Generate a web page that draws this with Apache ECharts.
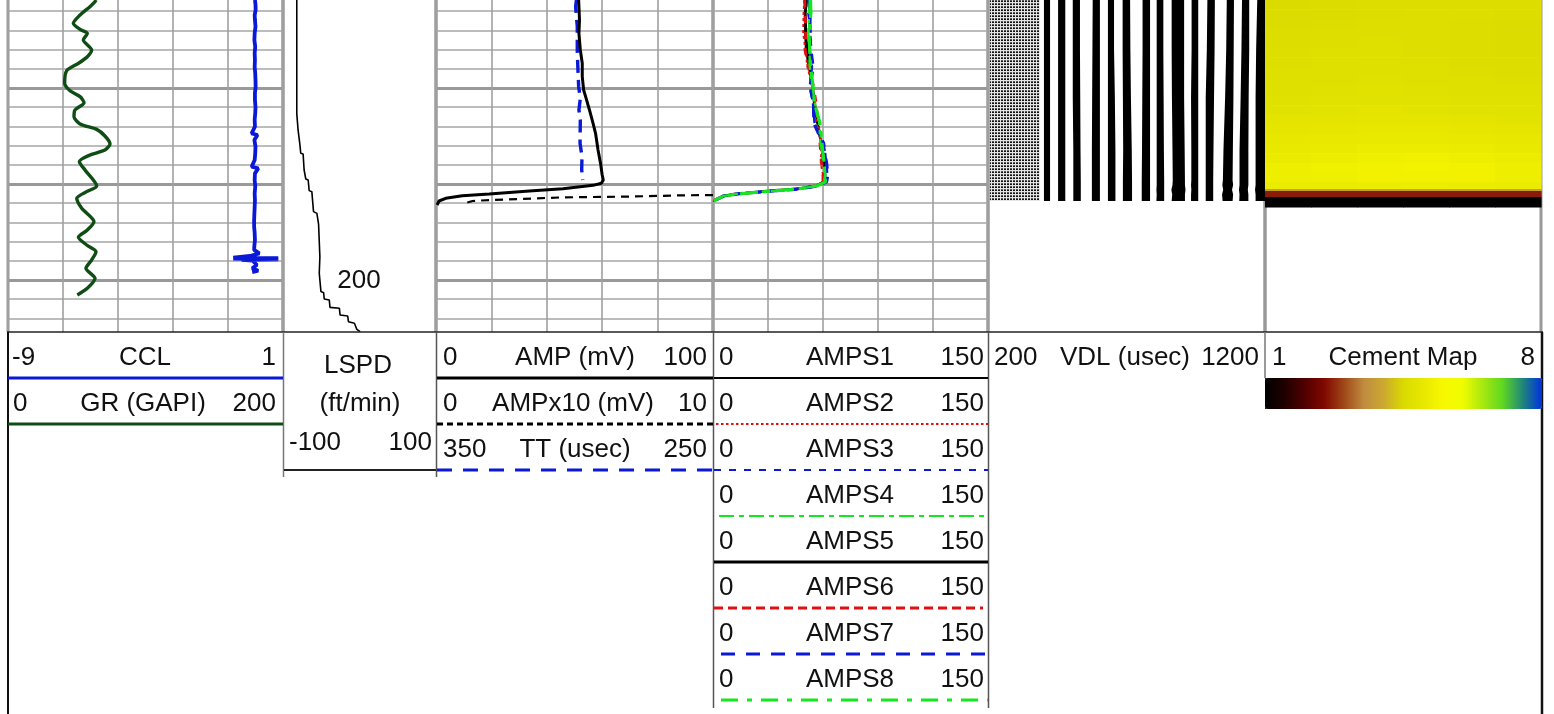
<!DOCTYPE html>
<html><head><meta charset="utf-8">
<style>html,body{margin:0;padding:0;background:#fff;overflow:hidden;width:1554px;height:714px}#c{position:absolute;left:0;top:-8px;width:1554px;height:722px}</style>
<script src="https://cdn.jsdelivr.net/npm/echarts@6/dist/echarts.min.js"></script>
</head><body><div id="c"></div>
<script>
// ---------- values (depth is relative, in feet) ----------
const grDepth=[0.83,1.01,1.53,2.4,3.26,3.89,4.31,5.0,6.04,6.74,7.43,8.19,9.51,10.28,10.9,11.53,12.29,12.99,13.75,14.31,15.0,15.83,16.46,16.98,17.67,18.54,20.2,20.8,21.49,22.53,23.92,24.79,25.55,26.35,27.05,27.92,28.78,29.83,30.87,31.56];
const grValues=[64,63.3,59.6,52.4,47.5,52.4,57.7,54.8,60.8,57.7,51.2,42.7,41.2,45.1,52.4,55.3,48.7,48,52.4,64.5,70.5,74.2,70.5,59.6,51.9,56,64.5,57.2,50,53.6,62.5,57.7,51.2,57.2,64,60.8,56.7,63.3,57.7,50.4];
const cclDepth=[0.83,1.3,1.87,2.4,2.92,3.6,4.3,5.0,5.69,6.4,7.08,7.8,8.47,9.2,9.86,10.5,11.25,12,12.64,13.3,14.03,14.72,14.9,15.42,16.1,16.8,17.5,18.2,18.37,18.89,19.6,20.28,21,21.67,22.4,23.05,23.8,24.44,25.1,25.83,26.4,26.87,27.22,27.5,27.66,27.72,27.78,27.84,27.9,27.99,28.44,28.78,29.03,29.17];
const cclValues=[-0.02,0.0,0.005,-0.03,-0.02,0.0,-0.03,-0.04,-0.01,-0.03,-0.02,-0.03,-0.01,0.0,0.005,-0.02,-0.02,0.0,-0.01,-0.03,-0.02,-0.14,0.07,-0.04,0.0,-0.01,-0.03,-0.14,0.10,-0.02,-0.03,-0.01,-0.03,-0.02,-0.03,-0.04,-0.05,-0.05,-0.03,-0.02,-0.04,-0.05,0.14,-0.2,-0.81,0.83,-0.81,0.83,-0.5,-0.1,0.05,-0.12,0.1,-0.12];
const lspdDepth=[0.83,12.64,14.37,15.76,16.8,16.87,18.54,19.48,19.58,20.69,20.8,22.88,23.06,24.17,27.57,29.3,31.21,31.32,31.98,32.08,32.85,32.95,33.65,33.75,34.34,34.51,35.14,35.38];
const lspdValues=[-82,-82,-80.3,-78.1,-76.8,-73.7,-72.4,-70.2,-67.1,-65.8,-62.3,-60.1,-55.7,-53.5,-51.8,-52.6,-50.4,-46.9,-46.1,-39.5,-38.6,-26.3,-25.4,-15.4,-14.5,-6.6,-3.5,0.9];
const ampDepth=[0.83,2.92,4.3,6.04,7.43,8.82,10.21,11.08,12.29,13.68,14.72,16.46,17.85,19.06,19.58,19.93,20.14,20.49,20.73,21.04,21.22,21.49,21.77,22.19];
const ampValues=[51.5,51.8,51.6,52.1,52.8,52.8,53.3,54.2,55.4,56.7,57.6,58.5,59.4,60.0,60.4,59.7,56.7,45.8,33.7,19.2,9.5,3.5,1.1,0.4];
const ampx10Depth=[21.15,21.18,21.32,21.39,21.56,21.67,21.77,22.08];
const ampx10Values=[10,8.93,6.75,4.58,3.01,1.92,1.32,0.95];
const ttDepth=[0.83,1.53,3.61,6.04,7.78,9.86,11.08,12.29,13.33,15.76,17.15,18.54,19.58];
const ttValues=[299.3,299.6,299.0,299.0,298.8,298.5,297.9,298.4,297.9,298.0,297.3,297.4,297.0];
const ampsDepth=[0.83,2.22,4.3,6.04,7.78,9.86,11.6,13.68,15.76,17.85,19.06,19.76,20.2,20.52,20.76,21.04,21.25,21.77];
const amps1=[51,50.5,50.8,51.5,52.8,54,55.6,57.2,58.8,60.2,61,60.2,56.5,45.6,29.3,12.9,5.6,0.2];
const amps2=[49.8,49.4,49.2,50.4,51.5,54.2,55.8,56.4,59.2,58.8,60,59.8,56,45.2,29.1,12.8,5.5,0.1];
const amps3=[52.5,52,53.4,52.8,54,52.8,54.5,55.4,60.6,61.8,62.4,61.5,57,46,29.5,13,5.7,0.2];
const amps4=[52.8,52.4,52,52.6,52.8,54.2,55.6,58,58.6,60.8,61.2,60.6,56.6,45.8,29.4,13,5.6,0.2];
const amps5=[50.6,50.2,50.4,50.8,52.4,54.4,55.2,57,59,60.6,61.2,60.4,56.4,45.4,29.2,12.8,5.5,0.2];
const amps6=[50,50.2,50.6,50.2,52,54.8,56.2,57.4,58.4,59.2,60,60.2,56.2,45.5,29.2,12.9,5.5,0.1];
const amps7=[52,53,52.8,53.4,54.6,53,54.8,55,60,62,62.6,62,57.2,46.2,29.6,13.1,5.8,0.3];
const amps8=[53.2,53.4,52.4,52.8,53.2,54.6,55.4,58.4,59.4,60.6,61,61.4,56.8,46,29.6,13.2,5.8,0.3];
const vdlEdgeDepth=[0.83,6,11,16.5,19.6,20.1,20.6,21.1,21.77];
const vdlLeft=[
[402,402,402,402,402,402,402,402,402],[453,453,453,453,453,453,453,453,453],[506,506,506,508,508,508,508,508,508],
[578,577,576,575,575,575,575,575,575],[633,633,633,633,633,633,633,633,633],[686,686,687,688,687,687,687,687,687],
[758,758,757,756,755,755,755,755,755],[809,809,809,809,809,809,808,809,808],[863,863,864,866,867,866,862,865,863],
[935,935,933,934,934,933,934,933,933],[992,990,986,986,986,986,986,986,986],[1062,1060,1056,1050,1048,1046,1049,1045,1047],
[1117,1115,1112,1108,1108,1108,1106,1108,1107],[1172,1168,1166,1166,1166,1166,1164,1166,1166]];
const vdlRight=[
[424,424,424,424,424,424,424,424,424],[479,479,479,479,479,479,479,479,479],[532,532,533,534,535,535,535,535,535],
[604,604,604,604,604,604,604,604,604],[655,655,658,660,660,660,660,660,660],[713,714,716,719,720,720,720,720,720],
[785,785,785,785,785,785,785,785,785],[833,833,834,835,836,836,836,836,836],[908,908,908,910,911,911,913,911,911],
[959,959,959,959,959,959,959,959,959],[1019,1018,1016,1014,1013,1013,1013,1013,1013],[1088,1087,1086,1084,1083,1085,1081,1085,1083],
[1143,1143,1141,1140,1140,1140,1138,1140,1140],[1200,1200,1200,1200,1200,1200,1200,1200,1200]];
const vdlPatchRange=[207,387];
const cementDepthEdges=[0.83,1.8,2.8,3.8,4.8,5.8,6.8,7.8,8.8,9.8,10.8,11.8,12.8,13.8,14.8,15.8,16.8,17.8,18.8,19.8,20.52,20.73,21.35,22.4];
const cementValues=[
[4.55,4.56,4.60,4.62,4.62,4.60],[4.56,4.58,4.62,4.64,4.63,4.60],[4.58,4.61,4.64,4.64,4.61,4.58],[4.60,4.63,4.66,4.64,4.60,4.58],
[4.62,4.65,4.67,4.63,4.59,4.57],[4.64,4.67,4.69,4.65,4.60,4.58],[4.66,4.68,4.70,4.67,4.61,4.59],[4.68,4.70,4.72,4.70,4.63,4.61],
[4.70,4.72,4.74,4.72,4.67,4.65],[4.72,4.74,4.78,4.75,4.72,4.70],[4.76,4.78,4.80,4.79,4.76,4.74],[4.80,4.82,4.84,4.83,4.80,4.78],
[4.84,4.86,4.88,4.88,4.84,4.82],[4.90,4.92,4.95,4.95,4.92,4.88],[4.96,4.99,5.03,5.04,5.00,4.96],[5.02,5.06,5.11,5.14,5.09,5.03],
[5.10,5.15,5.21,5.26,5.20,5.12],[5.18,5.24,5.30,5.35,5.30,5.20],[5.18,5.22,5.28,5.32,5.27,5.18],[5.08,5.10,5.14,5.16,5.12,5.08],
[3.8,3.8,3.8,3.8,3.8,3.8],[2.65,2.65,2.65,2.65,2.65,2.65],[1,1,1,1,1,1]];
const cementColors=['#000000','#200000','#500000','#800800','#a04818','#c08c40','#cca830','#dada00','#e8e800','#f8f800','#f0fc00','#a8e810','#60d820','#208878','#0030e0'];
const liveTimeNote='200';
// header text per track: [left, name, right]
const hdrLog=[['-9','CCL','1'],['0','GR (GAPI)','200']];
const hdrLspd=['LSPD','(ft/min)','-100','100'];
const hdrAmp=[['0','AMP (mV)','100'],['0','AMPx10 (mV)','10'],['350','TT (usec)','250']];
const hdrAmps=['AMPS1','AMPS2','AMPS3','AMPS4','AMPS5','AMPS6','AMPS7','AMPS8'].map(n=>['0',n,'150']);
const hdrVdl=['200','VDL (usec)','1200'];
const hdrCement=['1','Cement Map','8'];

// ---------- layout & style (the canvas starts 8px above the page) ----------
const edges=[8,283,436,713,988,1265,1541];
const rowH=46, hdrTop=332, textY0=357.5;
const C={blue:'#0a18d8',green:'#0f4d14',black:'#000',red:'#e01010',lime:'#14e620'};
const FONT='26px "Liberation Sans", Arial, sans-serif';
const pair=(xs,ys)=>xs.map((v,i)=>[v,ys[i]]);

const grids=edges.slice(0,-1).map((l,i)=>({left:l,width:edges[i+1]-l,top:0,height:384,show:true,borderColor:'#999',borderWidth:3,backgroundColor:'transparent'}));
const yAxes=grids.map((g,i)=>{
  const lined=i===0||i===2||i===3;
  return {type:'value',gridIndex:i,inverse:true,min:0,max:40,interval:10,
    axisLine:{show:false},axisTick:{show:false},axisLabel:{show:false},
    splitLine:{show:lined,lineStyle:{color:'#999',width:3}},
    minorTick:{show:false,splitNumber:5},
    minorSplitLine:{show:lined,lineStyle:{color:'#a6a6a6',width:1.6}}};
});
const xGrid=(i,min,max,interval)=>({type:'value',gridIndex:i,min,max,interval,position:'top',
  axisLine:{show:false},axisTick:{show:false},axisLabel:{show:false},
  splitLine:{show:!!interval,lineStyle:{color:'#a0a0a0',width:1.6}}});
const xHidden=(i,min,max,extra)=>Object.assign({type:'value',gridIndex:i,min,max,show:false,splitLine:{show:false}},extra||{});
const xAxes=[
  xGrid(0,0,200,40), xHidden(0,-9,1),
  xHidden(1,-100,100),
  xGrid(2,0,100,20), xHidden(2,0,10), xHidden(2,250,350,{inverse:true}),
  xGrid(3,0,150,30),
  xHidden(4,200,1200),
  xHidden(5,0,360)
];
const line=(name,xi,yi,data,color,width,dash,extra)=>Object.assign({name,type:'line',xAxisIndex:xi,yAxisIndex:yi,data,showSymbol:false,symbol:'none',
  lineStyle:{color,width,type:dash||'solid',cap:'butt'},silent:true,animation:false},extra||{});

const tile=document.createElement('canvas');tile.width=3;tile.height=3;
(function(){const t=tile.getContext('2d');t.fillStyle='#e4e4e4';t.fillRect(0,0,3,3);t.fillStyle='#111';t.fillRect(0,0,1,1);t.fillRect(2,0,1,1);t.fillStyle='#555';t.fillRect(0,2,1,1);t.fillRect(2,2,1,1);})();

const vdlSeries={name:'VDL',type:'custom',xAxisIndex:7,yAxisIndex:4,silent:true,animation:false,
  data:[-1].concat(vdlLeft.map((_,i)=>i)).map(i=>[i]),
  renderItem(p,api){
    const i=api.value(0);
    const n=vdlEdgeDepth.length;
    if(i<0){
      const a=api.coord([vdlPatchRange[0],vdlEdgeDepth[0]]),b=api.coord([vdlPatchRange[1],vdlEdgeDepth[n-1]]);
      return {type:'rect',shape:{x:a[0],y:a[1],width:b[0]-a[0],height:b[1]-a[1]},style:{fill:{image:tile,repeat:'repeat'}}};
    }
    const pts=[];
    for(let k=0;k<n;k++)pts.push(api.coord([vdlLeft[i][k],vdlEdgeDepth[k]]));
    for(let k=n-1;k>=0;k--)pts.push(api.coord([vdlRight[i][k],vdlEdgeDepth[k]]));
    return {type:'polygon',shape:{points:pts},style:{fill:'#000'}};
  }};
const cementData=[];
cementValues.forEach((row,r)=>row.forEach((v,c)=>cementData.push([c*60,cementDepthEdges[r],cementDepthEdges[r+1],v])));
const cementSeries={name:'Cement Map',type:'custom',xAxisIndex:8,yAxisIndex:5,silent:true,animation:false,
  data:cementData,dimensions:['az','top','bottom','value'],encode:{x:0,y:1},
  renderItem(p,api){
    const a=api.coord([api.value(0),api.value(1)]),b=api.coord([api.value(0)+60,api.value(2)]);
    return {type:'rect',shape:{x:a[0],y:a[1],width:b[0]-a[0]+0.6,height:b[1]-a[1]+0.4},style:{fill:api.visual('color')}};
  }};

const series=[
  line('GR',0,0,pair(grValues,grDepth),C.green,3.4,'solid',{smooth:0.25}),
  line('CCL',1,0,pair(cclValues,cclDepth),C.blue,3.8),
  line('LSPD',2,1,pair(lspdValues,lspdDepth),C.black,1.6),
  line('TT',5,2,pair(ttValues,ttDepth),C.blue,3.4,[13,7]),
  line('AMPx10',4,2,pair(ampx10Values,ampx10Depth),C.black,2.2,[8,6]),
  line('AMP',3,2,pair(ampValues,ampDepth),C.black,3),
  line('AMPS1',6,3,pair(amps1,ampsDepth),C.black,2),
  line('AMPS5',6,3,pair(amps5,ampsDepth),C.black,2.5),
  line('AMPS2',6,3,pair(amps2,ampsDepth),C.red,2,[3,3]),
  line('AMPS6',6,3,pair(amps6,ampsDepth),C.red,3,[7,9]),
  line('AMPS3',6,3,pair(amps3,ampsDepth),C.blue,2.4,[7,6]),
  line('AMPS7',6,3,pair(amps7,ampsDepth),C.blue,3.2,[10,8]),
  line('AMPS4',6,3,pair(amps4,ampsDepth),C.lime,2.4,[14,5,4,5]),
  line('AMPS8',6,3,pair(amps8,ampsDepth),C.lime,3.2,[18,6,6,6]),
  vdlSeries,
  cementSeries
];
const cementIndex=series.length-1;

// ---------- header block (over the lower, unused part of each grid) ----------
const g=[];
const OFF=8;
g.push({type:'rect',z:10,shape:{x:0,y:hdrTop+OFF,width:1554,height:714-hdrTop},style:{fill:'#fff'}});
// square off the colour bar's ends
g.push({type:'rect',z:12,shape:{x:1265,y:378+OFF,width:5,height:31},style:{fill:cementColors[0]}});
g.push({type:'rect',z:12,shape:{x:1537,y:378+OFF,width:5,height:31},style:{fill:cementColors[cementColors.length-1]}});
const hl=(x1,x2,y,color,w,dash)=>g.push({type:'line',z:12,shape:{x1,y1:y+OFF,x2,y2:y+OFF},style:{stroke:color,lineWidth:w,lineDash:dash||null}});
const vl=(x,y1,y2,color,w)=>g.push({type:'line',z:12,shape:{x1:x,y1:y1+OFF,x2:x,y2:y2+OFF},style:{stroke:color,lineWidth:w}});
const tx=(s,x,y,al)=>g.push({type:'text',z:14,style:{text:s,x,y:y+OFF,fill:'#111',font:FONT,textAlign:al,textVerticalAlign:'middle'}});
hl(7,1543,hdrTop,'#222',1.6);
vl(8,hdrTop,714,'#111',2); vl(1542,hdrTop,714,'#111',2.5);
vl(283.5,hdrTop,477,'#777',1.5); vl(436.5,hdrTop,477,'#555',1.5);
vl(713.5,hdrTop,708,'#555',1.5); vl(988.5,hdrTop,708,'#555',1.5); vl(1265,hdrTop,378,'#777',1.5);
const tri=(row,y,xl,xc,xr)=>{tx(row[0],xl,y,'left');tx(row[1],xc,y,'center');tx(row[2],xr,y,'right');};
hdrLog.forEach((r,i)=>tri(r,textY0+i*rowH,i?13:12,i?143:145,276));
hl(8,283,378,C.blue,3); hl(8,283,424,C.green,3);
tx(hdrLspd[0],358,365.5,'center'); tx(hdrLspd[1],360,403.5,'center'); tx(hdrLspd[2],289,442.5,'left'); tx(hdrLspd[3],432,442.5,'right');
hl(284,436,470,'#222',2);
hdrAmp.forEach((r,i)=>tri(r,textY0+i*rowH,443,[575,573,575][i],707));
hl(437,713,378,'#000',3); hl(437,713,424,'#000',3,[6,4]); hl(437,713,470,C.blue,3,[15,11]);
hdrAmps.forEach((r,i)=>tri(r,textY0+i*rowH,719,850,984));
hl(714,988,378,'#000',2.2);
hl(716,988,424,C.red,2,[2.5,2.5]);
hl(714,988,470,C.blue,2,[7,8]);
hl(719,988,516,C.lime,2,[15,5,5,5]);
hl(714,988,562,'#000',3);
hl(714,983,608,C.red,3,[9,5]);
hl(721,988,654,C.blue,3,[14,11]);
hl(721,988,700,C.lime,3,[17,9,5,9]);
tri(hdrVdl,textY0,994,1125,1259);
tri(hdrCement,textY0,1272,1403,1535);
g.push({type:'text',z:9,style:{text:liveTimeNote,x:359,y:281+OFF,fill:'#111',font:FONT,textAlign:'center',textVerticalAlign:'middle'}});

const chart=echarts.init(document.getElementById('c'),null,{renderer:'canvas',width:1554,height:722});
chart.setOption({
  animation:false,backgroundColor:'#fff',
  grid:grids,xAxis:xAxes,yAxis:yAxes,series,
  graphic:{elements:g},
  visualMap:[{type:'continuous',min:1,max:8,dimension:3,seriesIndex:cementIndex,orient:'horizontal',left:1265,top:378+OFF,
    itemWidth:31,itemHeight:277,padding:0,calculable:false,hoverLink:false,showLabel:false,z:15,
    inRange:{color:cementColors}}]
});
</script></body></html>
